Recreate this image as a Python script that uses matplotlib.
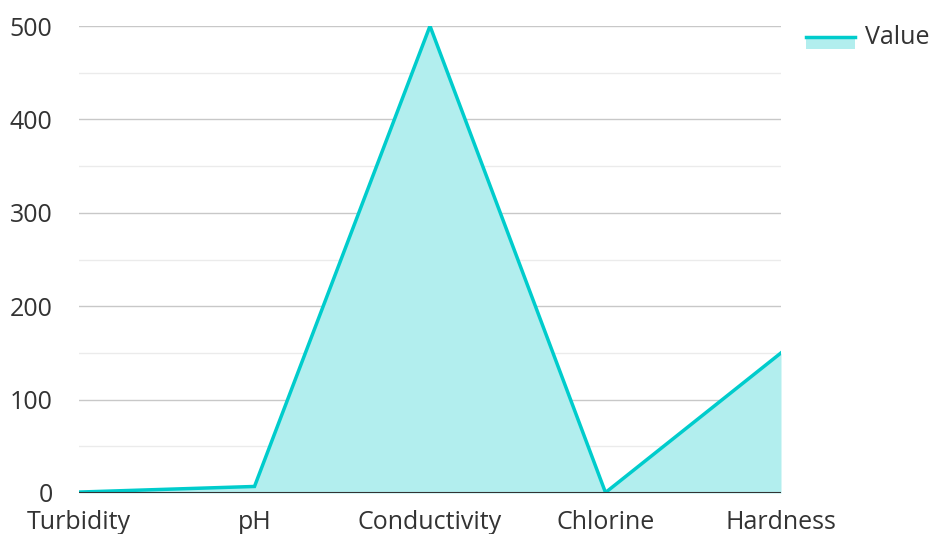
import numpy as np
import matplotlib.pyplot as plt
from matplotlib.patches import Rectangle
from matplotlib.lines import Line2D

plt.rcParams['font.family'] = ['Open Sans', 'DejaVu Sans']

categories = ['Turbidity', 'pH', 'Conductivity', 'Chlorine', 'Hardness']
values = [1, 7, 500, 0.5, 150]
series_name = 'Value'

line_color = '#00cccc'
fill_color = '#b2eeee'
text_color = '#333333'
fs = 18

W, H = 930, 534
fig = plt.figure(figsize=(W / 100, H / 100), dpi=100)
ax = fig.add_axes([79 / W, 1 - 493 / H, (781 - 79) / W, (493 - 26) / H])

x = np.arange(len(categories))
ax.fill_between(x, values, 0, color=fill_color, lw=0, zorder=2)
ax.plot(x, values, color=line_color, lw=2.5, zorder=3, solid_joinstyle='miter')

ax.set_xlim(0, len(categories) - 1)
ax.set_ylim(0, 500)
ax.set_yticks(np.arange(0, 501, 100))
ax.set_yticks(np.arange(50, 501, 100), minor=True)
ax.set_xticks(x)
ax.set_xticklabels(categories)

ax.grid(axis='y', which='major', color='#c8c8c8', lw=1, zorder=0)
ax.grid(axis='y', which='minor', color='#ebebeb', lw=1, zorder=0)
ax.axhline(0, color='#333333', lw=1.5, zorder=4)
for s in ax.spines.values():
    s.set_visible(False)
ax.tick_params(axis='both', which='both', length=0, labelsize=fs, colors=text_color)
ax.tick_params(axis='y', pad=19)
ax.tick_params(axis='x', pad=12)

# legend drawn in pixel coordinates of the figure
def px(xp, yp):
    return xp / W, 1 - yp / H

r0 = px(806, 49)
fig.add_artist(Rectangle(r0, 49 / W, 13 / H, transform=fig.transFigure,
                         facecolor=fill_color, lw=0))
fig.add_artist(Line2D([806 / W, 855 / W], [1 - 37 / H] * 2, transform=fig.transFigure,
                      color=line_color, lw=2.5))
tx, ty = px(865, 38)
fig.text(tx, ty, series_name, fontsize=fs, color=text_color, va='center', ha='left')

fig.savefig('out.png', dpi=100)
